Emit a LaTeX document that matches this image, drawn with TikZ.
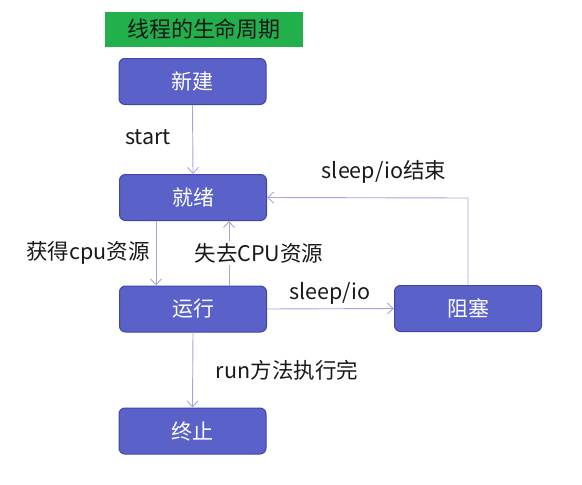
\documentclass[tikz,border=0pt]{standalone}
\usepackage{fontspec}
\setmainfont{Noto Sans CJK SC}
\usetikzlibrary{arrows.meta}
\definecolor{boxfill}{HTML}{5A62C9}
\definecolor{boxline}{HTML}{3E47A6}
\definecolor{arrowc}{HTML}{A3A7D8}
\definecolor{titlegreen}{HTML}{21B04B}
\tikzset{
  state/.style={draw=boxline, line width=1pt, fill=boxfill, rounded corners=6pt,
    minimum width=147pt, minimum height=46pt, inner sep=0pt, text=white,
    font=\fontsize{21}{24}\selectfont},
  lbl/.style={inner sep=1pt, font=\fontsize{21.5}{24}\selectfont, text=black!90},
  conn/.style={draw=arrowc, line width=0.9pt, -{Straight Barb[length=6pt,width=11pt]}},
}
\begin{document}
\begin{tikzpicture}[x=1pt,y=-1pt]
\useasboundingbox (0,0) rectangle (582,485);
\node[fill=titlegreen, minimum width=198pt, minimum height=35pt, inner sep=0pt,
  font=\fontsize{22}{24}\selectfont, text=black!90] (title) at (204,29.5) {线程的生命周期};
\node[state] (new) at (192.5,81.5) {新建};
\node[state] (ready) at (193,197.5) {就绪};
\node[state] (run) at (193,309) {运行};
\node[state] (block) at (468,308.5) {阻塞};
\node[state] (term) at (192.5,431) {终止};
\coordinate (corner) at (468,198);
\draw[conn] (new.south) -- (ready.north);
\draw[conn] (ready.south -| 156,0) -- (run.north -| 156,0);
\draw[conn] (run.north -| 229,0) -- (ready.south -| 229,0);
\draw[conn] (run.east) -- (block.west);
\draw[conn] (block.north) -- (corner) -- (ready.east);
\draw[conn] (run.south) -- (term.north);
\node[lbl] (l1) at (148,137) {start};
\node[lbl] (l2) at (88,253) {获得cpu资源};
\node[lbl, fill=white, inner ysep=2pt] (l3) at (259,253) {失去CPU资源};
\node[lbl] (l4) at (330,293) {sleep/io};
\node[lbl] (l5) at (384,172) {sleep/io结束};
\node[lbl] (l6) at (287,370) {run方法执行完};
\end{tikzpicture}
\end{document}
